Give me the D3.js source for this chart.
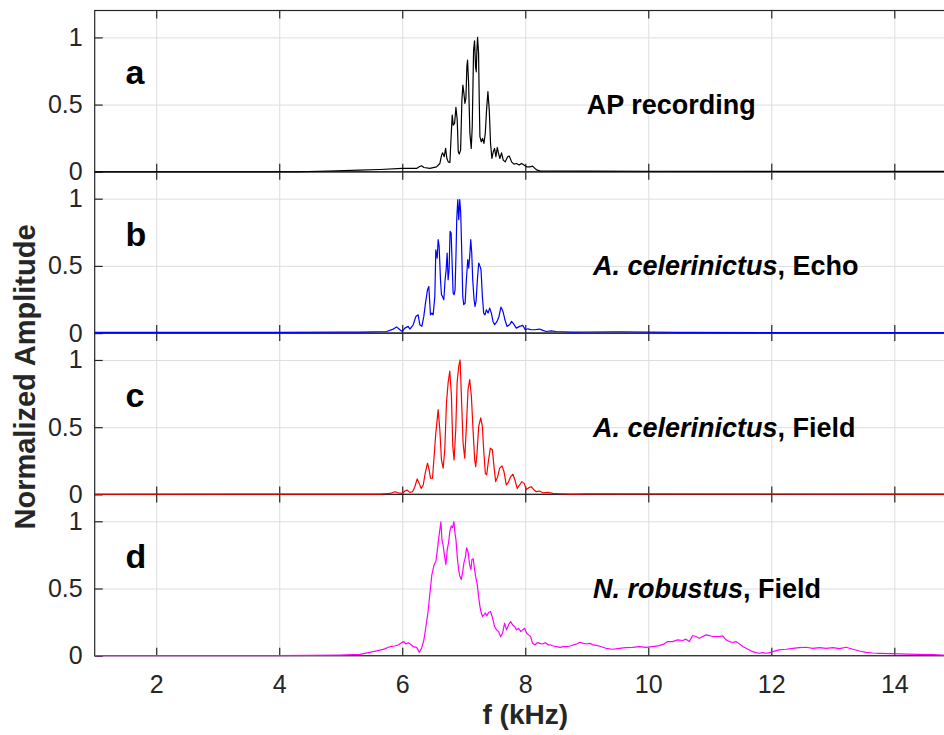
<!DOCTYPE html>
<html>
<head>
<meta charset="utf-8">
<script src="https://cdn.jsdelivr.net/npm/d3@7"></script>
<style>
  body { margin: 0; background: #fff; }
  svg { font-family: "Liberation Sans", Arial, Helvetica, sans-serif; }
</style>
</head>
<body>
<svg id="chart" width="944" height="735"></svg>
<script>
// frequency (kHz), normalized amplitude
var specA = [[1.0,0],[4.3,0],[4.8,0.006],[5.3,0.012],[5.64,0.017],[6.0,0.025],[6.233,0.025],[6.276,0.037],[6.314,0.045],[6.352,0.032],
  [6.45,0.025],[6.558,0.037],[6.612,0.062],[6.64,0.124],[6.656,0.141],[6.683,0.112],[6.705,0.174],[6.726,0.099],[6.748,0.074],[6.775,0.069],
  [6.797,0.285],[6.813,0.422],[6.829,0.347],[6.851,0.36],[6.873,0.479],[6.894,0.385],[6.911,0.149],[6.927,0.132],[6.949,0.161],[6.97,0.534],
  [6.986,0.645],[7.003,0.583],[7.019,0.509],[7.035,0.546],[7.051,0.782],[7.062,0.831],[7.079,0.658],[7.1,0.285],[7.122,0.174],[7.138,0.335],
  [7.16,0.906],[7.176,0.975],[7.192,0.782],[7.203,0.744],[7.214,0.906],[7.225,1.0],[7.241,0.881],[7.252,0.534],[7.263,0.261],[7.285,0.223],
  [7.306,0.248],[7.328,0.211],[7.35,0.285],[7.371,0.459],[7.393,0.596],[7.415,0.459],[7.436,0.211],[7.458,0.099],[7.48,0.149],[7.501,0.174],
  [7.523,0.112],[7.545,0.181],[7.566,0.136],[7.588,0.099],[7.615,0.141],[7.642,0.087],[7.675,0.074],[7.713,0.112],[7.74,0.117],[7.778,0.074],
  [7.816,0.057],[7.859,0.062],[7.902,0.05],[7.94,0.062],[7.978,0.05],[8.022,0.037],[8.076,0.037],[8.119,0.042],[8.157,0.025],[8.195,0.012],
  [8.238,0.007],[9.0,0.005],[10.0,0.004],[15.0,0.003]];

var specB = [[1.0,0.005],[4.0,0.005],[5.0,0.007],[5.314,0.007],[5.746,0.012],[5.854,0.03],[5.908,0.045],[5.962,0.025],[6.0,0.012],[6.043,0.037],
  [6.097,0.05],[6.124,0.03],[6.178,0.062],[6.222,0.124],[6.259,0.136],[6.286,0.062],[6.319,0.05],[6.351,0.124],[6.378,0.223],[6.411,0.323],
  [6.432,0.347],[6.459,0.136],[6.481,0.149],[6.503,0.136],[6.53,0.273],[6.546,0.62],[6.568,0.558],[6.584,0.695],[6.6,0.645],[6.622,0.397],
  [6.638,0.285],[6.654,0.273],[6.676,0.248],[6.697,0.397],[6.714,0.471],[6.73,0.596],[6.746,0.397],[6.762,0.471],[6.778,0.757],[6.795,0.744],
  [6.811,0.521],[6.827,0.298],[6.843,0.285],[6.859,0.323],[6.876,0.62],[6.886,0.844],[6.903,0.993],[6.919,0.844],[6.935,0.993],[6.951,0.893],
  [6.968,0.596],[6.984,0.273],[7.0,0.211],[7.022,0.223],[7.043,0.397],[7.065,0.546],[7.081,0.484],[7.097,0.571],[7.114,0.695],[7.13,0.596],
  [7.146,0.397],[7.168,0.248],[7.184,0.199],[7.2,0.236],[7.222,0.397],[7.243,0.521],[7.265,0.496],[7.281,0.471],[7.303,0.273],[7.324,0.149],
  [7.346,0.136],[7.368,0.174],[7.395,0.149],[7.422,0.186],[7.449,0.149],[7.476,0.087],[7.503,0.062],[7.541,0.087],[7.573,0.124],[7.605,0.194],
  [7.638,0.161],[7.67,0.099],[7.703,0.05],[7.746,0.062],[7.778,0.087],[7.811,0.069],[7.854,0.037],[7.908,0.05],[7.962,0.057],[8.0,0.025],
  [8.043,0.032],[8.097,0.025],[8.151,0.025],[8.232,0.03],[8.286,0.02],[8.341,0.012],[8.422,0.017],[8.503,0.012],[8.611,0.01],[8.773,0.007],
  [9.0,0.008],[9.5,0.01],[10.5,0.006],[12.0,0.004],[15.0,0.004]];

var specC = [[1.0,0.001],[5.314,0.002],[5.638,0.002],[5.8,0.007],[5.881,0.02],[5.935,0.012],[6.0,0.007],[6.043,0.025],[6.081,0.032],[6.124,0.015],
  [6.168,0.02],[6.205,0.057],[6.243,0.115],[6.276,0.082],[6.308,0.045],[6.341,0.07],[6.373,0.157],[6.411,0.232],[6.438,0.182],[6.459,0.12],
  [6.492,0.12],[6.514,0.257],[6.546,0.456],[6.584,0.631],[6.611,0.481],[6.638,0.257],[6.665,0.195],[6.692,0.332],[6.719,0.681],[6.746,0.83],
  [6.773,0.918],[6.8,0.731],[6.822,0.357],[6.843,0.257],[6.87,0.481],[6.892,0.83],[6.919,0.955],[6.941,1.0],[6.962,0.731],[6.989,0.382],
  [7.016,0.269],[7.043,0.506],[7.07,0.781],[7.097,0.855],[7.124,0.731],[7.151,0.481],[7.178,0.257],[7.195,0.207],[7.216,0.307],[7.243,0.506],
  [7.276,0.569],[7.303,0.506],[7.324,0.332],[7.351,0.157],[7.373,0.145],[7.4,0.244],[7.432,0.344],[7.465,0.332],[7.492,0.207],[7.519,0.095],
  [7.551,0.132],[7.584,0.195],[7.622,0.212],[7.654,0.17],[7.692,0.07],[7.73,0.095],[7.762,0.132],[7.8,0.15],[7.832,0.107],[7.87,0.045],
  [7.908,0.07],[7.946,0.095],[7.984,0.082],[8.016,0.037],[8.059,0.05],[8.097,0.057],[8.135,0.037],[8.178,0.02],[8.232,0.025],[8.286,0.012],
  [8.368,0.015],[8.449,0.007],[8.557,0.005],[8.773,0.002],[9.0,0.004],[15.0,0.002]];

var specD = [[1.0,0],[4.0,0],[4.5,0.002],[4.986,0.005],[5.312,0.01],[5.528,0.03],[5.691,0.047],[5.799,0.067],[5.881,0.072],[5.935,0.08],
  [5.989,0.097],[6.027,0.105],[6.06,0.087],[6.098,0.097],[6.136,0.085],[6.179,0.067],[6.233,0.062],[6.276,0.025],[6.314,0.055],[6.352,0.117],
  [6.385,0.217],[6.417,0.317],[6.45,0.466],[6.482,0.603],[6.515,0.671],[6.547,0.703],[6.569,0.778],[6.591,0.865],[6.612,0.94],[6.629,0.995],
  [6.645,0.865],[6.667,0.815],[6.688,0.741],[6.71,0.678],[6.732,0.791],[6.753,0.84],[6.775,0.928],[6.797,0.965],[6.818,0.953],[6.84,0.998],
  [6.856,0.915],[6.873,0.865],[6.894,0.741],[6.916,0.641],[6.938,0.591],[6.959,0.566],[6.981,0.616],[7.003,0.691],[7.03,0.741],[7.046,0.803],
  [7.073,0.766],[7.095,0.678],[7.117,0.641],[7.133,0.716],[7.154,0.721],[7.176,0.641],[7.198,0.579],[7.22,0.529],[7.241,0.441],[7.263,0.367],
  [7.285,0.317],[7.306,0.292],[7.328,0.304],[7.35,0.317],[7.377,0.297],[7.404,0.322],[7.436,0.329],[7.469,0.279],[7.501,0.217],[7.534,0.192],
  [7.566,0.18],[7.599,0.142],[7.631,0.167],[7.664,0.242],[7.696,0.192],[7.729,0.229],[7.762,0.254],[7.794,0.229],[7.827,0.217],[7.859,0.192],
  [7.892,0.204],[7.924,0.18],[7.957,0.192],[7.989,0.204],[8.022,0.167],[8.054,0.155],[8.087,0.142],[8.119,0.092],[8.157,0.08],[8.195,0.097],
  [8.238,0.092],[8.282,0.087],[8.325,0.097],[8.374,0.08],[8.412,0.08],[8.455,0.072],[8.509,0.067],[8.564,0.062],[8.618,0.067],[8.672,0.067],
  [8.726,0.072],[8.78,0.08],[8.835,0.087],[8.889,0.1],[8.943,0.092],[8.997,0.087],[9.051,0.092],[9.106,0.08],[9.16,0.077],[9.202,0.072],
  [9.311,0.055],[9.419,0.048],[9.528,0.055],[9.636,0.06],[9.745,0.062],[9.853,0.068],[9.962,0.062],[10.071,0.068],[10.179,0.075],[10.26,0.088],
  [10.315,0.105],[10.396,0.105],[10.477,0.118],[10.559,0.113],[10.613,0.123],[10.667,0.105],[10.722,0.15],[10.776,0.143],[10.83,0.13],[10.884,0.143],
  [10.939,0.155],[10.993,0.15],[11.047,0.143],[11.101,0.143],[11.156,0.143],[11.21,0.148],[11.264,0.118],[11.318,0.105],[11.373,0.098],[11.427,0.105],
  [11.481,0.088],[11.536,0.068],[11.59,0.055],[11.644,0.043],[11.698,0.03],[11.753,0.023],[11.807,0.018],[11.861,0.023],[11.915,0.018],[11.97,0.023],
  [12.024,0.03],[12.132,0.043],[12.241,0.048],[12.349,0.055],[12.458,0.06],[12.566,0.063],[12.675,0.055],[12.783,0.06],[12.892,0.055],[13.001,0.06],
  [13.109,0.053],[13.218,0.063],[13.326,0.048],[13.435,0.035],[13.543,0.025],[13.652,0.02],[13.76,0.018],[13.923,0.015],[14.086,0.013],[14.357,0.01],
  [14.628,0.008],[14.791,0.005],[15.0,0.004]];

var series = [specA, specB, specC, specD];
var seriesColours = ["#000000", "#0000ff", "#ff0000", "#ff00ff"];
var panelLetters = ["a", "b", "c", "d"];
// [italic part, plain part]
var panelNotes = [["", "AP recording"], ["A. celerinictus", ", Echo"], ["A. celerinictus", ", Field"], ["N. robustus", ", Field"]];
var xTicks = [2, 4, 6, 8, 10, 12, 14];
var yTicks = [0, 0.5, 1];

var left = 94.7, right = 955.8, top0 = 10.5, panelH = 161.3;
var axisColour = "#262626", gridColour = "#dedede";

var svg = d3.select("#chart");
var axesLayer = svg.append("g"),
    dataLayer = svg.append("g"),
    textLayer = svg.append("g");
var x = d3.scaleLinear().domain([1, 15]).range([left, right]);

series.forEach(function(data, i) {
  var top = top0 + i * panelH,
      bottom = top + panelH;
  var y = d3.scaleLinear().domain([0, 1.2]).range([bottom, top]);
  var g = axesLayer.append("g");

  // grid
  var gx = g.append("g").attr("transform", "translate(0," + bottom + ")")
    .call(d3.axisBottom(x).tickValues(xTicks).tickSize(-panelH).tickFormat(""));
  var gy = g.append("g").attr("transform", "translate(" + left + ",0)")
    .call(d3.axisLeft(y).tickValues(yTicks).tickSize(-(right - left)).tickFormat(""));
  [gx, gy].forEach(function(s) {
    s.select(".domain").remove();
    s.selectAll("line").attr("stroke", gridColour).attr("stroke-width", 1);
  });

  // box
  g.append("rect").attr("x", left).attr("y", top).attr("width", right - left).attr("height", panelH)
    .attr("fill", "none").attr("stroke", axisColour).attr("stroke-width", 1.2);

  // inward ticks
  var bx = g.append("g").attr("transform", "translate(0," + bottom + ")")
    .call(d3.axisBottom(x).tickValues(xTicks).tickSize(-8).tickPadding(20)
      .tickFormat(i === 3 ? d3.format("d") : ""));
  var tx = g.append("g").attr("transform", "translate(0," + top + ")")
    .call(d3.axisTop(x).tickValues(xTicks).tickSize(-8).tickFormat(""));
  var ly = g.append("g").attr("transform", "translate(" + left + ",0)")
    .call(d3.axisLeft(y).tickValues(yTicks).tickSize(-8).tickPadding(12).tickFormat(d3.format("~g")));
  [bx, tx, ly].forEach(function(s) {
    s.select(".domain").remove();
    s.selectAll("line").attr("stroke", axisColour).attr("stroke-width", 1.2);
    s.selectAll("text").attr("fill", axisColour).attr("font-size", 25);
  });

  // spectrum, drawn above every axis box
  var clipId = "clip" + i;
  dataLayer.append("clipPath").attr("id", clipId).append("rect")
    .attr("x", left).attr("y", top - 1).attr("width", right - left).attr("height", panelH + 2);
  var line = d3.line().x(function(d) { return x(d[0]); }).y(function(d) { return y(d[1]); });
  dataLayer.append("path").datum(data)
    .attr("clip-path", "url(#" + clipId + ")")
    .attr("fill", "none").attr("stroke", seriesColours[i]).attr("stroke-width", 1.2)
    .attr("stroke-linejoin", "round")
    .attr("d", line);

  // panel letter
  textLayer.append("text").attr("x", x(1.5)).attr("y", y(0.65))
    .attr("font-size", 34).attr("font-weight", "bold").attr("fill", "#000")
    .text(panelLetters[i]);

  // note
  var note = textLayer.append("text").attr("x", x(i === 0 ? 9.0 : 9.1)).attr("y", y(0.43))
    .attr("font-size", 27).attr("font-weight", "bold").attr("fill", "#000");
  if (panelNotes[i][0]) note.append("tspan").attr("font-style", "italic").text(panelNotes[i][0]);
  note.append("tspan").text(panelNotes[i][1]);
});

// axis titles
textLayer.append("text")
  .attr("transform", "translate(35," + 377 + ") rotate(-90)")
  .attr("text-anchor", "middle").attr("font-size", 29).attr("font-weight", "bold").attr("fill", axisColour)
  .text("Normalized Amplitude");

textLayer.append("text")
  .attr("x", (left + right) / 2).attr("y", 724)
  .attr("text-anchor", "middle").attr("font-size", 28).attr("font-weight", "bold").attr("fill", axisColour)
  .text("f (kHz)");
</script>
</body>
</html>
